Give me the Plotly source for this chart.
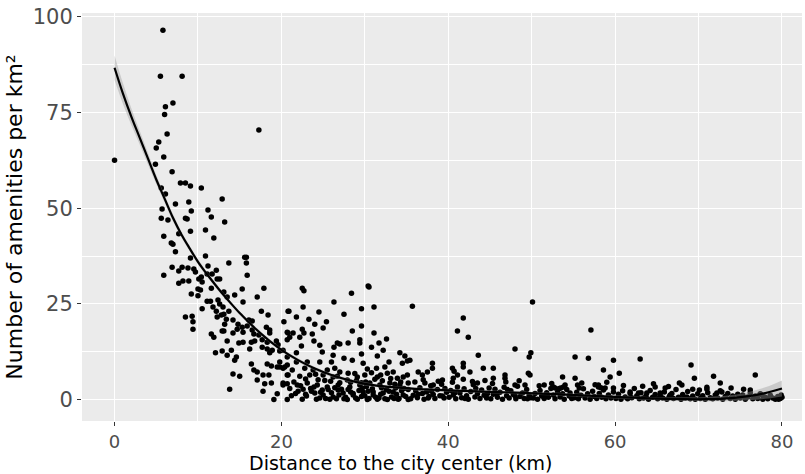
import plotly.graph_objects as go

# ---------------- data ----------------
pts_top = [(0.0, 62.5), (5.8, 96.5), (5.5, 84.5), (8.1, 84.5), (6.1, 76.5), (7.0, 77.5),
           (6.0, 74.5), (6.3, 69.4), (5.3, 67.3), (5.0, 65.7), (5.9, 63.4), (4.9, 61.5),
           (6.9, 59.5), (7.9, 56.6), (8.5, 56.6), (9.1, 55.8), (10.4, 55.3), (12.9, 52.4),
           (5.6, 55.3), (6.1, 53.7), (17.3, 70.4)]

pts_near = [(7.3, 51.1), (8.9, 51.6), (9.2, 49.3), (5.7, 49.8), (5.6, 47.4), (6.4, 46.9),
            (8.5, 47.4), (8.7, 47.2), (11.2, 49.5), (11.6, 47.7), (13.2, 46.4), (10.9, 44.3),
            (9.1, 44.0), (7.7, 43.3), (5.9, 42.7), (11.9, 42.2), (6.8, 40.9), (7.0, 40.6),
            (7.3, 38.6), (9.1, 37.0), (10.9, 37.5), (13.7, 35.7), (15.8, 37.2), (15.8, 35.7),
            (15.9, 32.5), (5.9, 32.5), (6.9, 34.6), (7.7, 33.6), (8.1, 34.6), (8.8, 34.4),
            (9.5, 34.1), (9.7, 33.3), (10.4, 32.0), (11.2, 34.9), (12.2, 33.8), (11.1, 32.8),
            (11.7, 32.8), (12.3, 31.5), (12.6, 31.5), (7.7, 30.4), (8.2, 31.0), (8.9, 31.0),
            (10.1, 31.5), (10.5, 30.7), (10.0, 28.9), (10.3, 28.6), (9.2, 27.6), (10.0, 27.1),
            (11.6, 29.1), (13.1, 28.1), (13.5, 26.8), (14.4, 27.3), (15.3, 28.9), (15.4, 25.5),
            (17.1, 26.8), (11.1, 25.7), (11.5, 25.7), (12.4, 26.0), (12.6, 25.0), (13.0, 24.2),
            (13.7, 23.1), (13.1, 22.3), (10.5, 23.7), (11.8, 24.2), (12.2, 23.1), (8.5, 21.6),
            (9.3, 21.8), (9.4, 20.3), (9.4, 18.4), (12.3, 21.6), (12.8, 22.1), (13.4, 21.0),
            (13.2, 19.7), (14.2, 20.8), (14.8, 19.7), (15.3, 18.9), (14.7, 18.4), (15.4, 17.6),
            (16.1, 20.8), (16.5, 20.5), (15.9, 19.2), (16.5, 18.2), (16.7, 17.1), (11.6, 17.1),
            (11.9, 16.3), (12.9, 17.9), (13.5, 15.3), (14.2, 17.4), (13.1, 17.9), (14.0, 12.9),
            (14.6, 11.1), (14.4, 10.3), (14.9, 14.8), (15.4, 15.0), (16.2, 13.2), (16.4, 15.0),
            (16.8, 15.3), (12.1, 12.2), (12.9, 12.7), (13.5, 11.6), (16.4, 9.3), (16.7, 7.7),
            (17.1, 7.2), (14.2, 6.7), (15.0, 6.1), (13.8, 2.7), (15.6, 37.2)]

pts_mid = [(17.9, 29.1), (17.6, 23.1), (18.4, 22.1), (20.8, 23.1), (20.3, 20.3), (18.2, 18.9),
           (18.6, 18.2), (18.6, 17.4), (17.3, 16.9), (17.7, 15.6), (18.3, 15.0), (19.4, 15.3),
           (19.6, 14.3), (20.8, 17.4), (20.7, 15.6), (17.7, 13.7), (18.3, 13.2), (18.9, 12.9),
           (18.6, 12.2), (20.2, 12.9), (20.7, 11.1), (18.3, 9.3), (18.8, 8.8), (19.5, 8.5),
           (19.8, 8.5), (20.2, 8.2), (20.7, 9.0), (18.5, 6.4), (17.8, 6.4), (20.8, 6.4),
           (18.0, 4.1), (18.8, 4.3), (20.2, 3.8), (20.7, 4.1), (17.8, 2.2), (19.5, 1.5),
           (19.1, 0.0), (20.7, 0.0), (17.1, 5.1),
           (26.3, 25.5), (31.1, 24.2), (29.6, 23.7), (22.6, 24.2), (20.9, 23.1), (24.5, 22.9),
           (27.5, 22.3), (21.8, 21.6), (23.3, 21.0), (24.0, 19.7), (25.4, 20.3), (25.0, 18.7),
           (29.6, 19.2), (20.7, 17.6), (21.4, 17.4), (21.0, 16.3), (22.5, 18.4), (22.7, 17.4),
           (22.2, 16.3), (23.7, 17.1), (28.5, 17.9), (31.1, 17.4), (32.6, 15.8), (29.4, 15.6),
           (23.9, 15.3), (24.6, 14.2), (22.4, 14.0), (21.8, 12.2), (19.8, 12.7), (24.9, 12.4),
           (26.7, 14.8), (27.0, 14.5), (28.0, 14.8), (26.3, 13.7), (29.4, 14.8), (30.8, 13.7),
           (31.7, 14.8), (29.6, 11.9), (31.5, 11.4), (32.2, 12.9), (34.2, 12.2), (34.8, 11.4),
           (26.2, 11.6), (28.5, 10.3), (27.5, 10.8), (29.8, 9.5), (32.9, 9.8), (34.5, 9.5),
           (35.1, 10.1), (21.8, 9.8), (23.1, 9.8), (24.6, 9.8), (26.0, 9.8), (19.8, 9.8),
           (20.4, 8.5), (21.3, 7.7), (22.8, 8.2), (23.8, 7.7), (25.5, 7.7), (26.4, 8.2),
           (27.0, 7.2), (28.0, 6.9), (30.3, 8.0), (31.4, 8.2), (32.4, 8.5), (33.4, 7.2),
           (20.7, 6.4), (22.2, 6.1), (23.4, 6.4), (25.0, 6.4), (26.2, 5.9), (27.9, 5.1),
           (29.1, 5.9), (30.0, 6.4), (31.5, 5.9), (32.7, 6.9), (33.9, 5.6), (35.1, 6.4),
           (20.2, 4.3), (21.9, 3.8), (23.1, 4.3), (24.3, 3.8), (25.5, 3.3), (26.8, 3.8),
           (28.2, 3.3), (29.4, 3.8), (30.6, 4.3), (31.8, 3.8), (33.0, 4.3), (34.2, 3.8),
           (35.2, 4.3), (22.6, 2.7), (24.0, 1.7), (25.0, 1.2), (26.2, 0.7), (27.4, 1.7),
           (28.6, 1.2), (29.8, 2.0), (31.0, 1.2), (32.2, 1.7), (33.4, 2.0), (34.6, 1.2),
           (22.5, 0.1), (24.6, 0.4), (25.8, 0.1), (27.9, 0.0), (29.1, 0.1), (30.3, 0.0),
           (31.5, 0.1), (32.7, 0.0), (34.0, 0.1), (35.2, 0.0), (29.7, 3.0), (26.8, 2.5),
           (22.5, 29.1), (22.7, 28.4), (30.4, 29.7), (30.5, 29.4), (28.4, 27.8), (35.7, 24.4),
           (21.2, 1.0), (22.0, 2.2), (23.0, 0.9), (23.5, 2.9), (24.2, 0.1), (24.9, 2.5),
           (25.3, 0.3), (26.0, 1.8), (26.6, 0.2), (27.2, 2.7), (27.7, 0.6), (28.3, 2.0),
           (28.9, 0.4), (29.3, 2.4), (30.0, 1.0), (30.5, 0.3), (30.9, 2.8), (31.3, 0.6),
           (31.9, 1.4), (32.4, 0.2), (32.9, 2.2), (33.2, 0.7), (33.7, 3.0), (34.1, 0.3),
           (34.4, 2.3), (34.9, 0.8), (29.0, 5.0), (30.1, 4.6), (31.2, 5.3), (32.1, 4.9),
           (33.1, 5.5), (34.3, 4.6), (27.0, 4.4), (28.8, 6.8), (30.8, 7.0), (25.9, 4.8),
           (24.4, 5.2), (22.9, 5.4), (21.5, 4.6), (23.6, 2.2), (26.9, 1.2), (28.6, 1.6),
           (30.4, 2.2), (32.0, 3.1), (33.8, 1.4),
           (21.0, 2.9), (21.7, 1.6), (22.3, 3.6), (22.9, 1.4), (23.9, 3.3), (24.7, 1.9),
           (25.6, 2.6), (26.4, 3.1), (27.5, 0.2), (28.0, 2.6), (29.6, 0.8), (30.2, 3.4),
           (31.0, 2.0), (31.7, 0.4), (32.6, 2.6), (33.5, 0.3), (34.7, 2.9), (24.1, 6.6),
           (25.2, 5.0), (26.7, 6.1), (28.3, 4.5), (29.6, 4.4), (31.9, 6.4), (33.6, 4.0)]

pts_far = [(50.1, 25.5), (41.8, 21.3), (41.1, 17.9), (42.4, 16.3), (57.1, 18.2), (43.6, 11.6),
           (48.0, 13.2), (49.9, 12.2), (49.7, 11.1), (55.2, 11.1), (56.8, 10.8), (35.4, 10.3),
           (38.1, 9.5), (38.1, 8.2), (40.5, 8.2), (40.7, 7.4), (41.8, 9.5), (41.8, 8.5),
           (41.1, 6.4), (42.6, 7.2), (44.2, 8.2), (45.4, 8.2), (45.4, 5.6), (46.8, 6.4),
           (46.8, 5.6), (49.6, 6.9), (49.8, 6.4), (53.7, 5.9), (55.2, 5.6), (55.5, 3.8),
           (36.4, 7.2), (36.9, 6.4), (37.5, 7.2), (34.6, 5.9), (37.2, 4.3), (38.2, 3.8),
           (39.3, 5.1), (40.6, 5.6), (43.5, 4.3), (48.0, 3.8), (49.2, 3.8), (51.5, 3.8),
           (52.6, 3.3), (53.8, 3.3), (58.0, 3.8), (59.8, 10.3), (63.0, 10.6), (58.6, 7.7),
           (60.5, 6.9), (59.4, 5.9), (69.1, 9.0), (69.5, 5.6), (71.8, 6.1), (72.6, 4.3),
           (76.8, 6.4), (67.7, 4.3), (64.8, 3.3), (66.0, 3.0), (69.3, 2.7), (70.1, 2.5),
           (71.0, 2.7), (75.4, 2.7), (76.2, 2.5), (58.0, 3.3), (58.8, 3.0), (59.8, 3.0),
           (61.8, 2.0), (62.8, 1.7), (63.8, 1.7), (65.4, 1.7), (66.6, 1.2), (68.6, 0.7),
           (72.2, 1.7), (72.8, 2.0), (77.4, 1.4), (77.8, 0.7), (52.8, 3.0), (53.5, 3.0)]

pts_band = [(35.5, 0.2), (35.8, 1.1), (36.1, 2.3), (36.3, 0.5), (36.6, 3.1), (36.9, 1.6),
            (37.1, 0.1), (37.4, 2.0), (37.7, 0.8), (37.9, 3.6), (38.2, 1.3), (38.4, 0.3),
            (38.7, 2.6), (39.0, 1.0), (39.2, 4.0), (39.5, 0.4), (39.8, 1.9), (36.0, 4.6),
            (37.0, 5.2), (38.8, 4.8), (39.6, 2.9), (35.2, 2.6), (36.4, 1.4), (37.6, 0.4),
            (38.0, 2.2), (39.3, 0.9),
            (40.1, 0.6), (40.3, 2.4), (40.6, 1.2), (40.9, 0.2), (41.1, 3.3), (41.4, 1.7),
            (41.6, 0.5), (41.9, 2.8), (42.2, 1.0), (42.4, 0.1), (42.7, 2.1), (43.0, 3.9),
            (43.2, 0.7), (43.5, 1.5), (43.8, 0.3), (44.0, 2.5), (44.3, 1.1), (44.6, 0.4),
            (44.9, 3.0), (40.5, 4.5), (41.8, 5.3), (42.9, 4.7), (44.4, 5.0), (40.8, 1.8),
            (42.0, 0.3), (43.3, 2.9), (44.7, 1.6),
            (45.1, 0.2), (45.4, 1.4), (45.6, 2.7), (45.9, 0.6), (46.2, 1.9), (46.5, 0.1),
            (46.7, 3.2), (47.0, 1.0), (47.3, 0.4), (47.5, 2.3), (47.8, 1.3), (48.1, 0.2),
            (48.3, 3.5), (48.6, 0.8), (48.9, 1.7), (49.1, 0.3), (49.4, 2.6), (49.7, 1.1),
            (49.9, 0.5), (45.3, 4.2), (46.9, 4.6), (48.5, 4.9), (45.8, 1.5), (47.1, 2.6),
            (48.0, 1.0), (49.5, 0.2),
            (50.2, 0.4), (50.4, 1.6), (50.7, 0.1), (51.0, 2.4), (51.2, 0.9), (51.5, 0.3),
            (51.8, 1.8), (52.0, 0.6), (52.3, 2.9), (52.6, 1.2), (52.8, 0.2), (53.1, 2.0),
            (53.4, 0.7), (53.7, 1.5), (53.9, 0.1), (54.2, 2.6), (54.5, 0.9), (54.8, 0.3),
            (50.9, 3.6), (52.4, 4.2), (54.0, 3.8), (51.6, 1.0), (53.3, 2.9), (54.6, 1.7),
            (55.1, 0.5), (55.4, 1.9), (55.6, 0.2), (55.9, 1.1), (56.2, 2.8), (56.4, 0.4),
            (56.7, 1.5), (57.0, 0.1), (57.3, 2.2), (57.5, 0.8), (57.8, 0.3), (58.1, 1.6),
            (58.4, 0.6), (58.6, 2.5), (58.9, 0.2), (59.2, 1.2), (59.5, 0.4), (59.8, 2.0),
            (56.0, 4.3), (57.6, 3.9), (59.0, 4.5), (55.7, 3.0), (58.3, 3.1),
            (60.1, 0.3), (60.4, 1.4), (60.7, 0.1), (60.9, 2.3), (61.2, 0.7), (61.5, 0.2),
            (61.8, 1.6), (62.0, 0.5), (62.3, 2.9), (62.6, 1.0), (62.9, 0.2), (63.1, 1.8),
            (63.4, 0.4), (63.7, 0.9), (64.0, 0.1), (64.2, 2.4), (64.5, 0.6), (64.8, 1.3),
            (61.0, 3.7), (63.3, 3.5), (64.6, 4.1),
            (65.1, 0.2), (65.4, 1.1), (65.7, 0.4), (65.9, 2.0), (66.2, 0.1), (66.5, 0.8),
            (66.8, 1.6), (67.0, 0.3), (67.3, 2.6), (67.6, 0.6), (67.9, 0.1), (68.1, 1.3),
            (68.4, 0.4), (68.7, 2.1), (69.0, 0.2), (69.3, 0.9), (69.6, 0.1), (69.9, 1.5),
            (66.4, 3.4), (68.0, 3.8),
            (70.2, 0.3), (70.5, 1.0), (70.8, 0.1), (71.1, 1.8), (71.4, 0.5), (71.7, 0.2),
            (72.0, 1.2), (72.3, 0.4), (72.6, 2.3), (72.9, 0.1), (73.2, 0.8), (73.5, 1.6),
            (73.8, 0.3), (74.1, 0.9), (74.4, 0.1), (74.7, 1.4), (71.0, 3.2), (73.9, 3.0),
            (75.0, 0.4), (75.3, 1.2), (75.6, 0.1), (75.9, 0.7), (76.2, 1.8), (76.5, 0.2),
            (76.8, 0.9), (77.1, 0.3), (77.4, 1.5), (77.7, 0.1), (78.0, 0.6), (78.3, 0.2),
            (78.6, 1.1), (78.9, 0.4), (79.2, 0.1), (79.5, 0.8), (79.8, 0.3), (80.0, 0.6),
            (79.9, 1.2), (79.6, 0.1)]

# smoothed fit with its confidence band
fit_x = [0, 1, 2, 3, 4, 5, 6, 7, 8, 9, 10, 11, 12, 13, 14, 15, 16, 17, 18, 19, 20, 22, 24,
         26, 28, 30, 32, 34, 36, 38, 40, 44, 48, 52, 56, 60, 64, 68, 71, 74, 76, 78, 80]
fit_y = [86.7, 80.0, 74.0, 68.5, 63.0, 57.5, 52.5, 47.5, 43.2, 39.5, 36.0, 33.0, 30.2, 27.5,
         25.0, 22.6, 20.4, 18.3, 16.4, 14.6, 13.0, 10.3, 8.1, 6.4, 5.1, 4.1, 3.5, 3.1, 2.8,
         2.6, 2.4, 2.1, 1.8, 1.5, 1.1, 0.7, 0.3, 0.1, 0.1, 0.4, 0.9, 1.7, 2.9]
fit_se = [3.2, 2.7, 2.2, 1.8, 1.5, 1.2, 1.0, 0.9, 0.8, 0.7, 0.7, 0.6, 0.6, 0.6, 0.5, 0.5,
          0.5, 0.5, 0.5, 0.5, 0.5, 0.5, 0.5, 0.5, 0.5, 0.5, 0.4, 0.4, 0.4, 0.4, 0.4, 0.4,
          0.4, 0.4, 0.4, 0.4, 0.4, 0.5, 0.6, 0.8, 1.1, 1.5, 2.1]

x_ticks = [0, 20, 40, 60, 80]
y_ticks = [0, 25, 50, 75, 100]
x_title = "Distance to the city center (km)"
y_title = "Number of amenities per km²"

# ---------------- figure ----------------
all_pts = pts_top + pts_near + pts_mid + pts_far + pts_band
px_ = [p[0] for p in all_pts]
py_ = [p[1] for p in all_pts]

fig = go.Figure()
fig.add_trace(go.Scatter(x=px_, y=py_, mode="markers",
                         marker=dict(color="black", size=5.5, line=dict(width=0)),
                         hoverinfo="skip", showlegend=False))

upper = [y + s for y, s in zip(fit_y, fit_se)]
lower = [y - s for y, s in zip(fit_y, fit_se)]
fig.add_trace(go.Scatter(x=fit_x, y=lower, mode="lines", line=dict(width=0, shape="spline"),
                         showlegend=False, hoverinfo="skip"))
fig.add_trace(go.Scatter(x=fit_x, y=upper, mode="lines", line=dict(width=0, shape="spline"),
                         fill="tonexty", fillcolor="rgba(153,153,153,0.4)",
                         showlegend=False, hoverinfo="skip"))
fig.add_trace(go.Scatter(x=fit_x, y=fit_y, mode="lines",
                         line=dict(color="black", width=2.2, shape="spline"),
                         showlegend=False, hoverinfo="skip"))

axis_common = dict(showgrid=True, gridcolor="white", gridwidth=1.3, zeroline=False,
                   ticks="outside", ticklen=4, tickcolor="#333333", tickwidth=1,
                   showline=False)

fig.update_layout(
    width=805, height=474,
    margin=dict(l=82, r=3, t=13, b=53),
    paper_bgcolor="white", plot_bgcolor="#EBEBEB",
    xaxis=dict(range=[-3.9, 82.4], tickvals=x_ticks, ticktext=[str(v) for v in x_ticks],
               tickfont=dict(family="DejaVu Sans", size=18, color="#4D4D4D"),
               minor=dict(dtick=10, tick0=0, showgrid=True, gridcolor="white", gridwidth=0.6,
                          ticks=""),
               **axis_common),
    yaxis=dict(range=[-5.6, 101.0], tickvals=y_ticks, ticktext=[str(v) for v in y_ticks],
               tickfont=dict(family="DejaVu Sans", size=21, color="#4D4D4D"),
               minor=dict(dtick=12.5, tick0=0, showgrid=True, gridcolor="white", gridwidth=0.6,
                          ticks=""),
               title=dict(text=y_title, font=dict(family="DejaVu Sans", size=22, color="black"),
                          standoff=4),
               **axis_common),
    annotations=[dict(text=x_title, xref="paper", yref="paper", x=0.443, y=-0.103,
                      xanchor="center", yanchor="middle", showarrow=False,
                      font=dict(family="DejaVu Sans", size=19, color="black"))],
)

fig.write_html("out.html")
